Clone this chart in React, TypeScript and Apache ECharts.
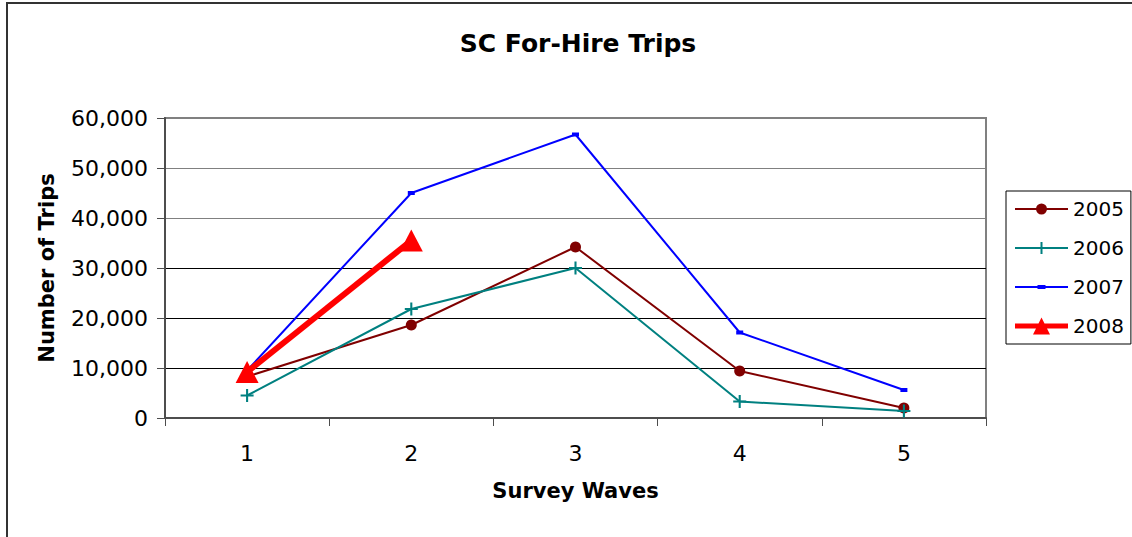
import React, { useEffect, useRef } from "react";
import * as echarts from "echarts";

const categories = ["1", "2", "3", "4", "5"];
const s2005 = [8300, 18600, 34200, 9400, 2000];
const s2006 = [4500, 21800, 30000, 3300, 1400];
const s2007 = [9500, 45000, 56700, 17100, 5600];
const s2008 = [9200, 35500, null, null, null];
const yTicks = [0, 10000, 20000, 30000, 40000, 50000, 60000];

const FONT = "DejaVu Sans, Liberation Sans, Arial, sans-serif";
const PLUS = "path://M4.2,0h1.6v4.2h4.2v1.6h-4.2v4.2h-1.6v-4.2h-4.2v-1.6h4.2z";

const ICON_2005 = "path://M0,6h53v2h-53z M21,7a5.5,5.5 0 1,1 11,0a5.5,5.5 0 1,1 -11,0z";
const ICON_2006 = "path://M0,6h53v2h-53z M25.5,1h2v12h-2z";
const ICON_2007 = "path://M0,6h53v2h-53z M22.5,5h8v4h-8z";
const ICON_2008 = "path://M0,6h53v5h-53z M18,17L26.5,0L35,17z";

export default function App() {
  const ref = useRef<HTMLDivElement>(null);
  useEffect(() => {
    if (!ref.current) return;
    const chart = echarts.init(ref.current, null, { renderer: "svg" });
    chart.setOption({
      animation: false,
      backgroundColor: "#fff",
      textStyle: { fontFamily: FONT },
      title: {
        text: "SC For-Hire Trips",
        left: 573,
        top: 26,
        textAlign: "center",
        textStyle: { fontSize: 25, fontWeight: "bold", color: "#000", fontFamily: FONT },
      },
      graphic: [
        { type: "line", shape: { x1: 6, y1: 3, x2: 1132, y2: 3 }, style: { stroke: "#333", lineWidth: 2 } },
        { type: "line", shape: { x1: 7, y1: 2, x2: 7, y2: 537 }, style: { stroke: "#333", lineWidth: 2 } },
      ],
      legend: {
        orient: "vertical",
        left: 1006,
        top: 191,
        padding: [8, 7, 8, 9],
        itemWidth: 53,
        itemHeight: 17,
        itemGap: 19,
        borderColor: "#000",
        borderWidth: 1,
        symbolKeepAspect: true,
        textStyle: { fontSize: 20, color: "#000", lineHeight: 20, fontFamily: FONT },
        data: [
          { name: "2005", icon: ICON_2005 },
          { name: "2006", icon: ICON_2006 },
          { name: "2007", icon: ICON_2007 },
          { name: "2008", icon: ICON_2008 },
        ],
      },
      grid: {
        left: 165,
        right: 146,
        top: 118,
        bottom: 119,
        show: true,
        borderColor: "#808080",
        borderWidth: 2,
        backgroundColor: "transparent",
      },
      xAxis: {
        type: "category",
        data: categories,
        boundaryGap: true,
        name: "Survey Waves",
        nameLocation: "middle",
        nameGap: 62,
        nameTextStyle: { fontSize: 21, fontWeight: "bold", color: "#000", fontFamily: FONT },
        axisLine: { lineStyle: { color: "#4d4d4d", width: 2 } },
        axisTick: { show: true, length: 8, lineStyle: { color: "#4d4d4d", width: 1 } },
        axisLabel: { fontSize: 22, color: "#000", margin: 24, fontFamily: FONT },
        splitLine: { show: false },
      },
      yAxis: {
        type: "value",
        min: yTicks[0],
        max: yTicks[yTicks.length - 1],
        interval: 10000,
        name: "Number of Trips",
        nameLocation: "middle",
        nameGap: 108,
        nameTextStyle: { fontSize: 21, fontWeight: "bold", color: "#000", fontFamily: FONT },
        axisLine: { show: true, lineStyle: { color: "#4d4d4d", width: 2 } },
        axisTick: { show: true, length: 8, lineStyle: { color: "#4d4d4d", width: 1 } },
        axisLabel: {
          fontSize: 22,
          color: "#000",
          margin: 17,
          fontFamily: FONT,
          formatter: (v: number) => v.toLocaleString("en-US"),
        },
        splitLine: {
          show: true,
          lineStyle: {
            color: ["#000", "#000", "#000", "#000", "#808080", "#808080", "#808080"],
            width: 1,
          },
        },
      },
      series: [
        {
          name: "2005",
          type: "line",
          data: s2005,
          symbol: "circle",
          symbolSize: 11,
          lineStyle: { color: "#800000", width: 2 },
          itemStyle: { color: "#800000" },
          z: 2,
        },
        {
          name: "2006",
          type: "line",
          data: s2006,
          symbol: PLUS,
          symbolSize: 13,
          lineStyle: { color: "#008080", width: 2 },
          itemStyle: { color: "#008080" },
          z: 3,
        },
        {
          name: "2007",
          type: "line",
          data: s2007,
          symbol: "rect",
          symbolSize: [7, 4],
          lineStyle: { color: "#0000ff", width: 2 },
          itemStyle: { color: "#0000ff" },
          z: 4,
        },
        {
          name: "2008",
          type: "line",
          data: s2008,
          symbol: "triangle",
          symbolSize: [23, 22],
          lineStyle: { color: "#ff0000", width: 6 },
          itemStyle: { color: "#ff0000" },
          z: 5,
        },
      ],
    });
    return () => chart.dispose();
  }, []);
  return (
    <div
      ref={ref}
      style={{ position: "fixed", left: 0, top: 0, width: 1132, height: 537 }}
    />
  );
}
